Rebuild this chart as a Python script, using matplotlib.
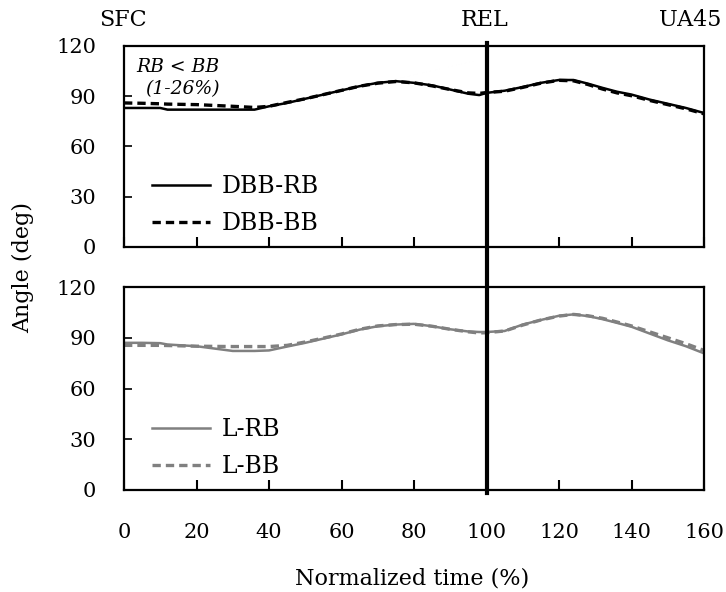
import numpy as np
import matplotlib
matplotlib.use("Agg")
from matplotlib import pyplot as plt
from matplotlib import transforms
from matplotlib.lines import Line2D

plt.rcParams['font.family'] = ['DejaVu Serif']
plt.rcParams['mathtext.fontset'] = 'dejavuserif'

# normalized time (%)
t = [0, 5, 10, 12, 20, 30, 36, 40, 45, 50, 55, 60, 65, 70, 75, 80, 85, 90, 95, 98,
     100, 105, 110, 115, 120, 124, 128, 132, 136, 140, 145, 150, 155, 160]

dbb_rb = [83, 83, 83, 82, 82, 82, 82, 84, 86, 88.5, 91, 93.5, 96, 98, 99, 98, 96.5, 94, 91.5, 90.7,
          92, 93.3, 95.5, 98, 99.7, 99.7, 97.5, 95, 92.7, 91, 88, 85.5, 83, 80]
dbb_bb = [86, 85.8, 85.5, 85.3, 85, 84, 83.3, 84, 86.3, 88.5, 91, 93.5, 96, 97.8, 98.8, 98, 96.2, 94, 92, 91.7,
          92.2, 93, 95.3, 97.8, 99.5, 99.2, 97, 94.3, 92, 90.3, 87.5, 85, 82.5, 79.5]

l_rb = [87, 87, 86.8, 86, 85, 82.2, 82.2, 82.5, 84.8, 87, 89.5, 92, 94.8, 96.8, 97.8, 98.2, 96.8, 95, 93.7, 93.4,
        93.4, 94, 97.8, 100.5, 103, 103.8, 102.8, 101, 98.8, 96.5, 92.5, 88.5, 85, 80.8]
l_bb = [85.5, 85.5, 85.5, 85.4, 85, 84.8, 84.8, 84.8, 85.5, 87.5, 89.8, 92.2, 95, 97, 97.8, 98, 96.8, 95, 93.5, 92.8,
        93, 94, 97.5, 100.5, 102.8, 103.8, 103, 101.5, 99.3, 97, 93.5, 90, 86.5, 82.5]

xticks = [0, 20, 40, 60, 80, 100, 120, 140, 160]
yticks = [0, 30, 60, 90, 120]

fig = plt.figure(figsize=(7.26, 5.92), dpi=100)
ax1 = fig.add_axes([0.1708, 0.5828, 0.7989, 0.3395])
ax2 = fig.add_axes([0.1708, 0.1723, 0.7989, 0.3429])

gray = '#808080'
ax1.plot(t, dbb_rb, color='black', lw=1.8, label='DBB-RB')
ax1.plot(t, dbb_bb, color='black', lw=2.4, ls=(0, (2.5, 1.5)), label='DBB-BB')
ax2.plot(t, l_rb, color=gray, lw=1.8, label='L-RB')
ax2.plot(t, l_bb, color=gray, lw=2.4, ls=(0, (2.5, 1.5)), label='L-BB')

for ax in (ax1, ax2):
    ax.set_xlim(0, 160)
    ax.set_ylim(0, 120)
    ax.set_xticks(xticks)
    ax.set_yticks(yticks)
    ax.tick_params(axis='y', direction='in', length=6, width=1.2, labelsize=15, pad=20)
    ax.tick_params(axis='x', direction='in', length=7, width=1.5, labelsize=15, pad=24)
    ax.tick_params(top=False, right=False)
    for s in ax.spines.values():
        s.set_linewidth(1.6)
    ax.legend(loc='lower left', bbox_to_anchor=(0.048, 0.06), frameon=False, fontsize=17,
              handlelength=2.45, handletextpad=0.5, labelspacing=0.57,
              borderaxespad=0, borderpad=0)

ax1.tick_params(axis='x', labelbottom=False)

ax1.text(0.092, 0.87, 'RB < BB', transform=ax1.transAxes, ha='center', fontsize=13.5, style='italic')
ax1.text(0.10, 0.76, '(1-26%)', transform=ax1.transAxes, ha='center', fontsize=13.5, style='italic')

# REL marker line across both panels
trans = transforms.blended_transform_factory(ax1.transData, fig.transFigure)
fig.add_artist(Line2D([100, 100], [1 - 43 / 592, 1 - 493 / 592], transform=trans, color='black', lw=3))

# event labels above the top panel
fig.text(123 / 726, 1 - 20 / 592, 'SFC', ha='center', va='center', fontsize=16)
fig.text(485 / 726, 1 - 20 / 592, 'REL', ha='center', va='center', fontsize=16)
fig.text(721 / 726, 1 - 20 / 592, 'UA45', ha='right', va='center', fontsize=16)

fig.text(23 / 726, 1 - 268 / 592, 'Angle (deg)', rotation=90, ha='center', va='center', fontsize=16)
fig.text(412 / 726, 1 - 578 / 592, 'Normalized time (%)', ha='center', va='center', fontsize=16)

fig.savefig('out.png', dpi=100)
